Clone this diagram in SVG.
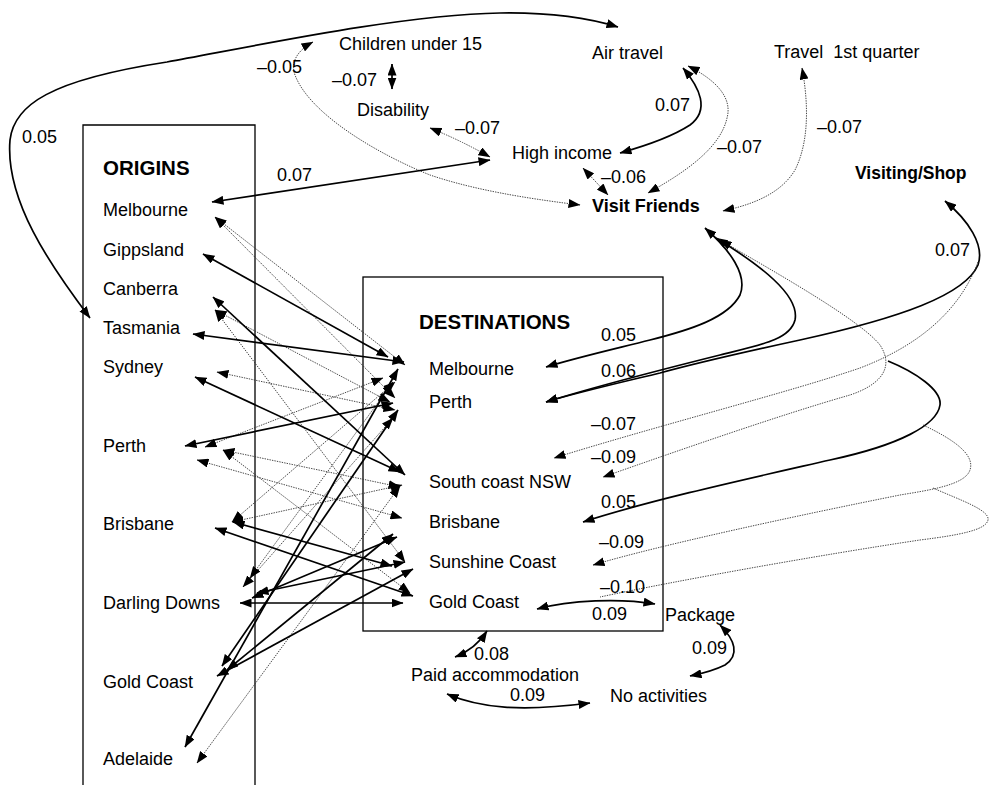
<svg xmlns="http://www.w3.org/2000/svg" width="991" height="785" viewBox="0 0 991 785">
<defs>
  <marker id="ah" viewBox="0 0 12 9" refX="11.5" refY="4.5" markerWidth="12" markerHeight="9" markerUnits="userSpaceOnUse" orient="auto-start-reverse">
    <path d="M0,0 L12,4.5 L0,9 z" fill="#000"/>
  </marker>
  <style>
    text { font-family: "Liberation Sans", Arial, sans-serif; font-size: 18px; fill: #000; }
    .b { font-weight: bold; }
    .box { fill: none; stroke: #000; stroke-width: 1.3; }
    .s { fill: none; stroke: #000; stroke-width: 1.7; marker-start: url(#ah); marker-end: url(#ah); }
    .se { fill: none; stroke: #000; stroke-width: 1.7; marker-end: url(#ah); }
    .d { fill: none; stroke: #333; stroke-width: 0.9; stroke-dasharray: 1.4 1.1; marker-start: url(#ah); marker-end: url(#ah); }
    .de { fill: none; stroke: #333; stroke-width: 0.9; stroke-dasharray: 1.4 1.1; marker-end: url(#ah); }
    .dn { fill: none; stroke: #333; stroke-width: 0.9; stroke-dasharray: 1.4 1.1; }
  </style>
</defs>
<rect width="991" height="785" fill="#fff"/>

<!-- frames -->
<g id="origins-box"><path class="box" d="M83,785 V125 H255 V785"/></g>
<g id="destinations-box"><rect class="box" x="363" y="277" width="300" height="354"/></g>

<!-- connectors -->
<g id="connectors">
  <!-- top region -->
  <path class="s" d="M90,318 C50,265 5,200 10,140 C14,105 50,80 167,62 C260,45 400,15 500,13 C560,12 595,20 618,27"/>
  <path class="d" d="M313,42 C298,50 290,62 295,75 C310,115 380,155 430,175 C480,192 540,200 580,205"/>
  <path class="s" d="M392,64 L392,89"/>
  <path class="d" d="M430,128 Q460,140 490,157"/>
  <path class="s" d="M212,202 L490,160"/>
  <path class="s" d="M683,68 C700,88 710,110 690,125 C670,138 645,146 620,153"/>
  <path class="d" d="M688,66 C720,82 732,100 727,118 C720,150 680,175 648,193"/>
  <path class="d" d="M583,168 L608,195"/>
  <path class="d" d="M802,68 C808,100 810,140 795,170 C780,195 750,205 723,211"/>

  <!-- right-hand loops -->
  <path class="s" d="M945,201 C968,220 985,245 978,265 C965,295 900,318 800,340 C740,353 700,362 660,373 C610,385 575,393 546,402"/>
  <path class="s" d="M705,228 C730,250 748,275 740,295 C728,318 690,330 650,340 C610,350 575,358 546,367"/>
  <path class="s" d="M716,238 C760,265 800,295 795,320 C790,340 760,345 720,355 C680,365 600,385 546,402"/>
  <path class="d" d="M720,240 C780,275 860,320 880,345 C895,368 880,385 850,395 C780,415 680,450 603,477"/>
  <path class="de" d="M978,262 C960,310 920,345 860,368 C790,392 660,425 554,458"/>
  <path class="se" d="M888,361 C915,372 942,390 940,405 C937,425 900,445 830,460 C760,476 650,500 583,522"/>
  <path class="de" d="M923,425 C955,440 975,455 970,470 C965,485 930,490 900,495 C800,515 660,545 593,565"/>
  <path class="dn" d="M933,488 C960,500 990,510 988,520 C986,530 960,535 920,540 C820,555 680,580 600,597"/>

  <!-- bottom region -->
  <path class="s" d="M537,609 C570,600 620,598 655,604"/>
  <path class="s" d="M720,625 C735,640 740,655 725,665 C715,670 700,674 690,676"/>
  <path class="s" d="M487,631 C478,645 468,652 455,657"/>
  <path class="s" d="M447,694 C480,708 520,712 590,703"/>

  <!-- origin to destination, dotted -->
  <path class="d" d="M215,217 L405,365"/>
  <path class="d" d="M215,217 L395,398"/>
  <path class="d" d="M215,310 L390,402"/>
  <path class="d" d="M215,310 L405,562"/>
  <path class="d" d="M217,372 L395,410"/>
  <path class="d" d="M205,447 L383,378"/>
  <path class="d" d="M223,450 L400,487"/>
  <path class="d" d="M197,460 L402,518"/>
  <path class="d" d="M223,450 L410,593"/>
  <path class="d" d="M232,522 L395,382"/>
  <path class="d" d="M232,522 L402,485"/>
  <path class="d" d="M243,587 L393,418"/>
  <path class="d" d="M250,578 L393,382"/>
  <path class="d" d="M197,763 L400,486"/>

  <!-- origin to destination, solid -->
  <path class="s" d="M203,254 L388,357"/>
  <path class="s" d="M213,297 L405,475"/>
  <path class="s" d="M193,334 L404,362"/>
  <path class="s" d="M195,377 L400,472"/>
  <path class="s" d="M185,446 L393,403"/>
  <path class="s" d="M215,528 L413,596"/>
  <path class="s" d="M233,522 L392,566"/>
  <path class="s" d="M240,603 L403,603"/>
  <path class="s" d="M257,593 L405,562"/>
  <path class="s" d="M252,598 L397,537"/>
  <path class="s" d="M185,747 L398,369"/>
  <path class="s" d="M222,666 L398,410"/>
  <path class="s" d="M227,670 L393,534"/>
  <path class="s" d="M217,676 L413,569"/>
</g>

<!-- edge labels -->
<g id="edge-labels">
  <text x="22" y="143">0.05</text>
  <text x="257" y="73">–0.05</text>
  <text x="332" y="86">–0.07</text>
  <text x="455" y="134">–0.07</text>
  <text x="277" y="181">0.07</text>
  <text x="655" y="111">0.07</text>
  <text x="717" y="153">–0.07</text>
  <text x="601" y="183">–0.06</text>
  <text x="817" y="133">–0.07</text>
  <text x="935" y="256">0.07</text>
  <text x="601" y="341">0.05</text>
  <text x="601" y="377">0.06</text>
  <text x="591" y="430">–0.07</text>
  <text x="591" y="463">–0.09</text>
  <text x="601" y="508">0.05</text>
  <text x="599" y="548">–0.09</text>
  <text x="600" y="593">–0.10</text>
  <text x="592" y="620">0.09</text>
  <text x="692" y="654">0.09</text>
  <text x="474" y="660">0.08</text>
  <text x="510" y="701">0.09</text>
</g>

<!-- attribute nodes -->
<g id="children"><text x="339" y="50">Children under 15</text></g>
<g id="disability"><text x="357" y="116">Disability</text></g>
<g id="air-travel"><text x="592" y="59">Air travel</text></g>
<g id="travel-q1"><text x="774" y="58" xml:space="preserve">Travel  1st quarter</text></g>
<g id="high-income"><text x="512" y="159">High income</text></g>
<g id="visit-friends"><text class="b" x="592" y="212">Visit Friends</text></g>
<g id="visiting-shop"><text class="b" x="855" y="179" style="font-size:17.5px">Visiting/Shop</text></g>
<g id="package"><text x="665" y="621">Package</text></g>
<g id="paid-accommodation"><text x="411" y="681">Paid accommodation</text></g>
<g id="no-activities"><text x="610" y="702">No activities</text></g>

<!-- origins -->
<g id="origins">
  <text class="b" x="103" y="175" style="font-size:20.5px">ORIGINS</text>
  <g id="o-melbourne"><text x="103" y="216">Melbourne</text></g>
  <g id="o-gippsland"><text x="103" y="256">Gippsland</text></g>
  <g id="o-canberra"><text x="103" y="295">Canberra</text></g>
  <g id="o-tasmania"><text x="103" y="334">Tasmania</text></g>
  <g id="o-sydney"><text x="103" y="373">Sydney</text></g>
  <g id="o-perth"><text x="103" y="452">Perth</text></g>
  <g id="o-brisbane"><text x="103" y="530">Brisbane</text></g>
  <g id="o-darling-downs"><text x="103" y="609">Darling Downs</text></g>
  <g id="o-gold-coast"><text x="103" y="688">Gold Coast</text></g>
  <g id="o-adelaide"><text x="103" y="765">Adelaide</text></g>
</g>

<!-- destinations -->
<g id="destinations">
  <text class="b" x="419" y="329" style="font-size:20.5px">DESTINATIONS</text>
  <g id="d-melbourne"><text x="429" y="375">Melbourne</text></g>
  <g id="d-perth"><text x="429" y="408">Perth</text></g>
  <g id="d-south-coast"><text x="429" y="488">South coast NSW</text></g>
  <g id="d-brisbane"><text x="429" y="528">Brisbane</text></g>
  <g id="d-sunshine"><text x="429" y="568">Sunshine Coast</text></g>
  <g id="d-gold-coast"><text x="429" y="608">Gold Coast</text></g>
</g>
</svg>
